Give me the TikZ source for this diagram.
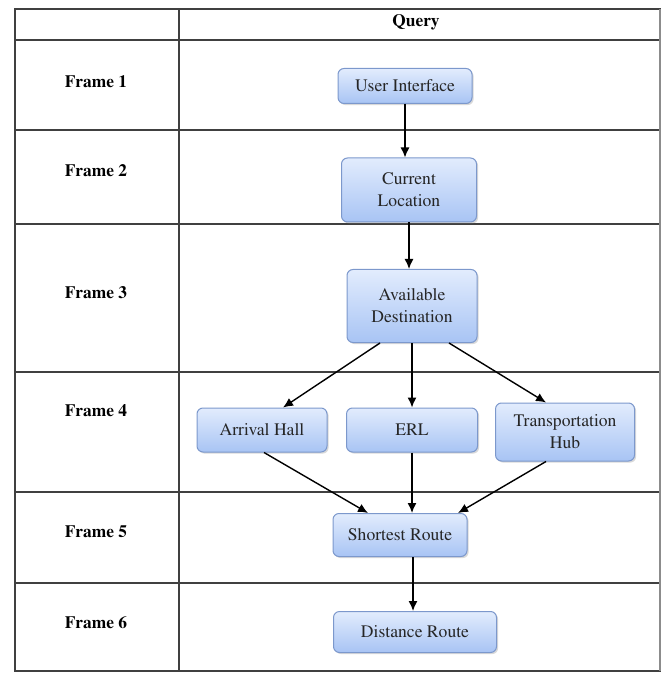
\documentclass[tikz,border=0pt]{standalone}
\usepackage[T1]{fontenc}
\renewcommand{\rmdefault}{ptm}
\usetikzlibrary{calc,shadows,arrows.meta}
\definecolor{boxtop}{HTML}{E2ECFD}
\definecolor{boxbot}{HTML}{A8C4F4}
\definecolor{boxline}{HTML}{7C98CC}
\tikzset{procbox/.style={rectangle,rounded corners=3pt,draw=boxline,line width=0.5pt,
	 top color=boxtop,bottom color=boxbot,align=center,inner sep=0pt,
	 font=\fontsize{8.8}{11}\selectfont,text=black!85,
	 drop shadow={opacity=0.3,shadow xshift=0.8pt,shadow yshift=-0.8pt}},
	 flow/.style={-{Latex[length=5pt,width=4.5pt]},line width=0.7pt},
	 framelbl/.style={font=\bfseries\fontsize{8.7}{11}\selectfont},
	 grid/.style={line width=0.7pt,draw=black!75}
	 }

\begin{document}
\begin{tikzpicture}[x=0.5pt,y=-0.5pt]
	\useasboundingbox (0,0) rectangle (665,673);
	% table
	\draw[grid] (15,9) rectangle (660,671);
	\draw[grid] (179,9) -- (179,671);
	\foreach \y in {40,130,224,372,492,583} \draw[grid] (15,\y) -- (660,\y);
	\draw[line width=1.4pt,black!45] (660,9) -- (660,671);
	\node[framelbl] (query) at (416,22) {Query};
	\foreach \n/\y in {1/82,2/171,3/293,4/411,5/532,6/623}
		\node[framelbl] (fr\n) at (96,\y) {Frame \n};
	% flow
	\node[procbox,minimum width=67pt,minimum height=17.5pt] (ui) at (405,86) {User Interface};
	\node[procbox,minimum width=67.5pt,minimum height=32pt] (curloc) at (409,190) {Current\\Location};
	\node[procbox,minimum width=65pt,minimum height=36.5pt] (avdest) at (412,306) {Available\\Destination};
	\node[procbox,minimum width=65pt,minimum height=22pt] (arrhall) at (262,430) {Arrival Hall};
	\node[procbox,minimum width=65.5pt,minimum height=22pt] (erl) at (412,430) {ERL};
	\node[procbox,minimum width=69.5pt,minimum height=29pt] (transhub) at (565,432) {Transportation\\Hub};
	\node[procbox,minimum width=67pt,minimum height=21.5pt] (shortroute) at (400,535) {Shortest Route};
	\node[procbox,minimum width=81.5pt,minimum height=20.5pt] (distroute) at (415,632) {Distance Route};
	\draw[flow] (ui.south) -- (ui.south |- curloc.north);
	\draw[flow] (curloc.south) -- (curloc.south |- avdest.north);
	\draw[flow] ($(avdest.south)+(-32,0)$) -- ($(arrhall.north)+(21,0)$);
	\draw[flow] (avdest.south) -- (avdest.south |- erl.north);
	\draw[flow] ($(avdest.south)+(37,0)$) -- ($(transhub.north)+(-19,0)$);
	\draw[flow] ($(arrhall.south)+(2,0)$) -- ($(shortroute.north)+(-32,0)$);
	\draw[flow] (erl.south) -- (erl.south |- shortroute.north);
	\draw[flow] ($(transhub.south)+(-19,0)$) -- ($(shortroute.north)+(58,0)$);
	\draw[flow] ($(shortroute.south)+(13,0)$) -- ($(distroute.north)+(-2,0)$);
\end{tikzpicture}
\end{document}
